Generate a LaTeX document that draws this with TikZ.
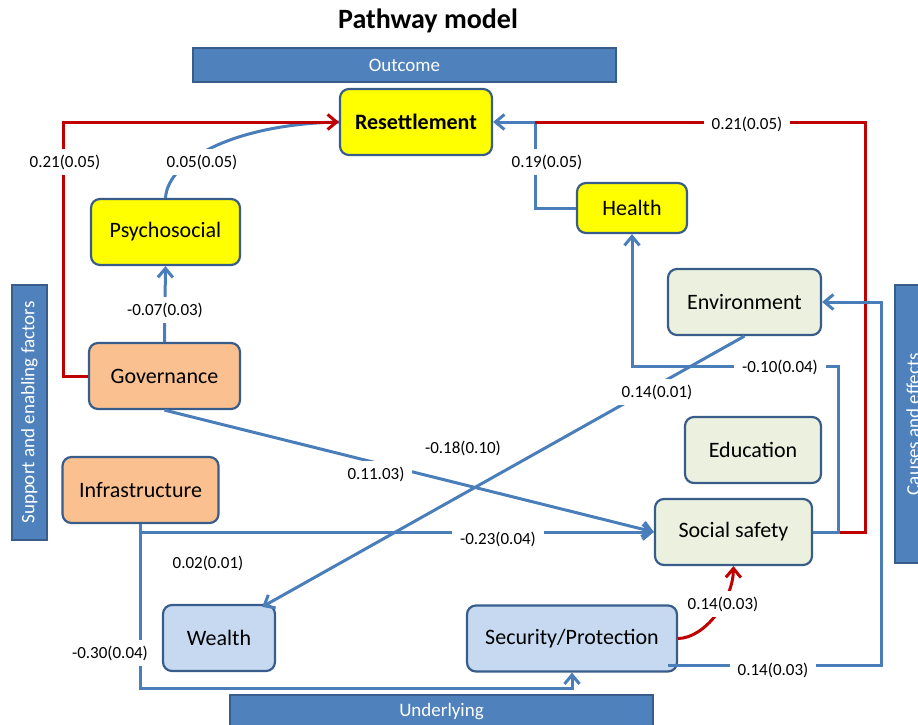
\documentclass[tikz,border=0pt]{standalone}
\usepackage{fontspec}
\setmainfont{Carlito}
\usetikzlibrary{arrows.meta, calc}

\definecolor{boxline}{HTML}{385D8A}
\definecolor{outyellow}{HTML}{FFFF00}
\definecolor{suporange}{HTML}{FAC090}
\definecolor{causegreen}{HTML}{EBF1DE}
\definecolor{underblue}{HTML}{C6D9F1}
\definecolor{bandblue}{HTML}{4F81BD}
\definecolor{linkblue}{HTML}{4A7EBB}
\definecolor{linkred}{HTML}{C00000}

\begin{document}
\begin{tikzpicture}[x=1pt, y=-1pt]
    \tikzstyle{box} = [draw=boxline, line width=2.2pt, rounded corners=9pt, minimum height=66pt, font=\fontsize{22}{26}\selectfont];
    \tikzstyle{outcome} = [box, fill=outyellow];
    \tikzstyle{support} = [box, fill=suporange];
    \tikzstyle{cause} = [box, fill=causegreen];
    \tikzstyle{under} = [box, fill=underblue];
    \tikzstyle{band} = [draw=boxline, line width=1.5pt, fill=bandblue, text=white, font=\fontsize{19}{22}\selectfont];
    \tikzstyle{link} = [draw=linkblue, line width=3pt];
    \tikzstyle{rlink} = [draw=linkred, line width=3pt];
    \tikzstyle{arrowed} = [-{Straight Barb[length=9pt, width=15pt]}];
    \tikzstyle{lbl} = [fill=white, inner xsep=8pt, inner ysep=6pt, font=\fontsize{17}{20}\selectfont];

    \useasboundingbox (0,0) rectangle (918,725);

    \node[font=\bfseries\fontsize{28}{32}\selectfont] (title) at (428,21) {Pathway model};

    \node[band, minimum width=423pt, minimum height=34pt] (outbar) at (404.5,65) {Outcome};
    \node[band, rotate=90, minimum width=255pt, minimum height=35pt] (supbar) at (29.5,412.5) {Support and enabling factors};
    \node[band, rotate=90, minimum width=278pt, minimum height=36pt] (caubar) at (913,424) {Causes and effects};
    \node[band, minimum width=423pt, minimum height=34pt] (undbar) at (441.5,712) {Underlying};

    \node[outcome, minimum width=152pt, font=\bfseries\fontsize{22}{26}\selectfont] (res) at (416,122) {Resettlement};
    \node[outcome, minimum width=110pt, minimum height=50pt] (hea) at (632,208) {Health};
    \node[outcome, minimum width=149pt] (psy) at (165.5,232) {Psychosocial};

    \node[support, minimum width=151pt] (gov) at (164.5,376) {Governance};
    \node[support, minimum width=156pt] (inf) at (140.5,490) {Infrastructure};

    \node[cause, minimum width=153pt] (env) at (744.5,302) {Environment};
    \node[cause, minimum width=136pt] (edu) at (753,450) {Education};
    \node[cause, minimum width=157pt] (soc) at (733.5,532) {Social safety};

    \node[under, minimum width=112pt] (wea) at (219,638) {Wealth};
    \node[under, minimum width=210pt] (sec) at (572,638.5) {Security/Protection};

    \coordinate (top) at (535,122);
    \coordinate (hbend) at (632,366);

    \draw[link] (psy.north) .. controls (168,160) and (235,124) .. (res.west);
    \draw[rlink, arrowed] (gov.west) -- ++(-24,0) |- (res.west);
    \draw[link, arrowed] (hea.west) -| (top) -- (res.east);
    \draw[rlink] (soc.east) -- ++(52,0) |- (top);

    \draw[link, arrowed] (gov.north) -- (psy.south);
    \draw[link, arrowed] (soc.east) -- ++(25,0) |- (hbend) -- (hea.south);
    \draw[link, arrowed] ($(sec.south east)+(-10,-7)$) -- ++(213,0) |- (env.east);
    \draw[link, arrowed] (env.south) -- ($(wea.north east)+(-14,3)$);
    \draw[link, arrowed] (gov.south) -- (soc.west);
    \draw[link, arrowed] (inf.south) |- (soc.west);
    \draw[link, arrowed] (inf.south) -- ++(0,164) -| (sec.south);
    \draw[rlink, arrowed] (sec.east) .. controls (705,638) and (733,600) .. (soc.south);

    \node[lbl] (l1) at (65,162) {0.21(0.05)};
    \node[lbl] (l2) at (202,162) {0.05(0.05)};
    \node[lbl] (l3) at (547,162) {0.19(0.05)};
    \node[lbl] (l4) at (747,124) {0.21(0.05)};
    \node[lbl] (l5) at (165,310) {-0.07(0.03)};
    \node[lbl] (l6) at (780,367) {-0.10(0.04)};
    \node[lbl] (l7) at (657,392) {0.14(0.01)};
    \node[lbl] (l8) at (463,448) {-0.18(0.10)};
    \node[lbl] (l9) at (376,474) {0.11.03)};
    \node[lbl] (l10) at (498,539) {-0.23(0.04)};
    \node[lbl] (l11) at (208,563) {0.02(0.01)};
    \node[lbl] (l12) at (110,653) {-0.30(0.04)};
    \node[lbl] (l13) at (723,604) {0.14(0.03)};
    \node[lbl] (l14) at (773,670) {0.14(0.03)};
\end{tikzpicture}
\end{document}
